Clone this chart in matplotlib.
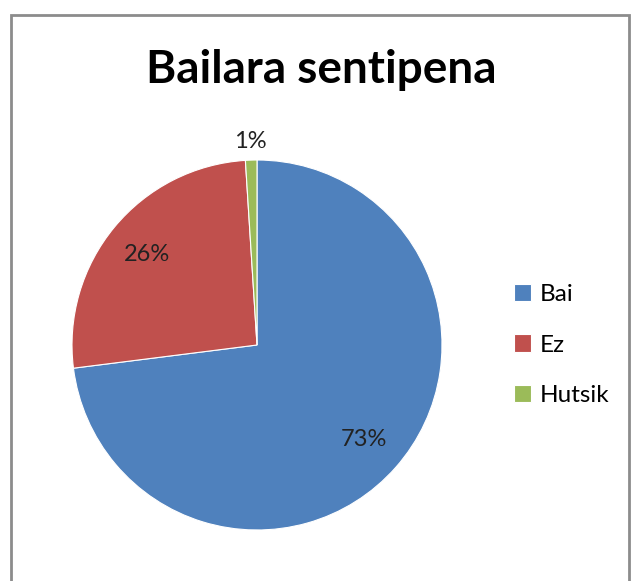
import numpy as np
import matplotlib
matplotlib.use('Agg')
import matplotlib.pyplot as plt
from matplotlib.patches import Rectangle

plt.rcParams['font.family'] = ['Lato', 'DejaVu Sans']

# datuak
labels = ['Bai', 'Ez', 'Hutsik']
values = [73, 26, 1]
colors = ['#4F81BD', '#C0504D', '#9BBB59']
title = 'Bailara sentipena'

W, H = 635, 581
fig = plt.figure(figsize=(W/100, H/100), dpi=100)

# kanpoko markoa
fig.patches.append(Rectangle((11/W, -0.05), (629-11)/W, 1.05 - 15/H,
                             transform=fig.transFigure, fill=False,
                             edgecolor='#8c8c8c', linewidth=2))

cx, cy, r = 257, 345, 185
ax = fig.add_axes([(cx-r)/W, (H-cy-r)/H, 2*r/W, 2*r/H])
wedges, texts, autotexts = ax.pie(values, colors=colors, startangle=90,
                                  counterclock=False, radius=1,
                                  autopct='%1.0f%%', pctdistance=0.77,
                                  wedgeprops=dict(edgecolor='white', linewidth=0.8),
                                  textprops=dict(fontsize=17, color='#222222'))
# 1% etiketa kanpoan
w = wedges[2]
ang = np.deg2rad((w.theta1 + w.theta2) / 2)
autotexts[2].set_position((1.1*np.cos(ang), 1.1*np.sin(ang)))
ax.set_xlim(-1, 1)
ax.set_ylim(-1, 1)
ax.set_aspect('equal')
ax.axis('off')

fig.text(321/W, 1 - 70/H, title, ha='center', va='center',
         fontsize=33, fontweight='bold')

fig.legend(wedges, labels, loc='center left', bbox_to_anchor=(514/W, 1 - 345/H),
           frameon=False, fontsize=17.5, handlelength=0.7, handleheight=0.7,
           handletextpad=0.35, labelspacing=1.2, borderpad=0, borderaxespad=0)

fig.savefig('out.png', dpi=100)
